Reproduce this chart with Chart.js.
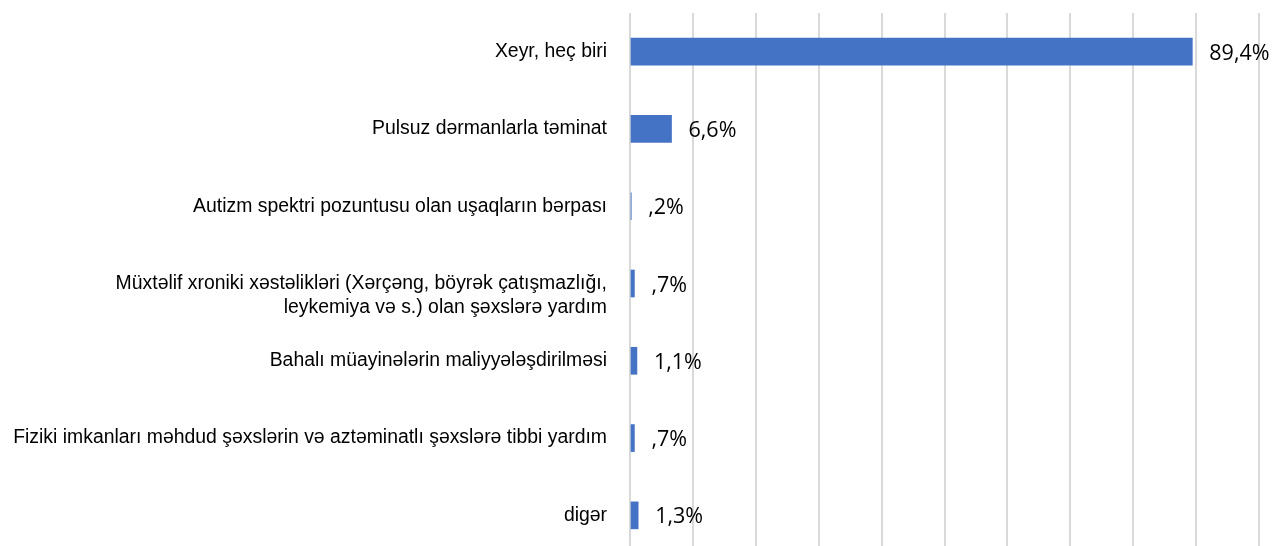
<!DOCTYPE html>
<html>
<head>
<meta charset="utf-8">
<script src="https://cdn.jsdelivr.net/npm/chart.js@4"></script>
<style>
  html, body { margin: 0; padding: 0; background: #fff; overflow: hidden; }
  #wrap { position: relative; width: 1272px; height: 554px; }
</style>
</head>
<body>
<div id="wrap"><canvas id="chart"></canvas></div>
<script>
// the empty first line keeps the wrapped label's first line level with its bar
const categories = [
  'Xeyr, heç biri',
  'Pulsuz dərmanlarla təminat',
  'Autizm spektri pozuntusu olan uşaqların bərpası',
  ['', 'Müxtəlif xroniki xəstəlikləri (Xərçəng, böyrək çatışmazlığı,', 'leykemiya və s.) olan şəxslərə yardım'],
  'Bahalı müayinələrin maliyyələşdirilməsi',
  'Fiziki imkanları məhdud şəxslərin və aztəminatlı şəxslərə tibbi yardım',
  'digər'
];
const shares = [89.4, 6.6, 0.2, 0.7, 1.1, 0.7, 1.3];

function fmtShare(v) {
  // Excel-style "0,0%" without a leading zero
  return v.toFixed(1).replace('.', ',').replace(/^0/, '') + '%';
}

const valueLabels = {
  id: 'valueLabels',
  afterDatasetsDraw(chart) {
    const ctx = chart.ctx;
    const meta = chart.getDatasetMeta(0);
    ctx.save();
    ctx.font = '21.5px "Open Sans"';
    ctx.fillStyle = '#000';
    ctx.textAlign = 'left';
    ctx.textBaseline = 'middle';
    meta.data.forEach((bar, i) => {
      ctx.fillText(fmtShare(shares[i]), bar.x + 17, bar.y + 2);
    });
    ctx.restore();
  }
};

new Chart(document.getElementById('chart'), {
  type: 'bar',
  data: {
    labels: categories,
    datasets: [{
      data: shares,
      backgroundColor: '#4472C4',
      borderWidth: 0,
      barThickness: 27
    }]
  },
  options: {
    indexAxis: 'y',
    responsive: true,
    maintainAspectRatio: false,
    animation: false,
    layout: { padding: { top: 13, right: 13, bottom: 0, left: 0 } },
    plugins: {
      legend: { display: false },
      tooltip: { enabled: false }
    },
    scales: {
      x: {
        min: 0,
        max: 100,
        ticks: { display: false, stepSize: 10 },
        grid: { color: '#d9d9d9', lineWidth: 2, drawTicks: false },
        border: { display: false }
      },
      y: {
        afterFit(scale) {
          scale.width = 630;
          scale.paddingTop = 0;
          scale.paddingBottom = 0;
        },
        grid: { display: false },
        border: { display: false },
        ticks: {
          padding: 15,
          color: '#000',
          font: { family: '"Liberation Sans", Arial', size: 19.4, lineHeight: 1.25 }
        }
      }
    }
  },
  plugins: [valueLabels]
});
</script>
</body>
</html>
